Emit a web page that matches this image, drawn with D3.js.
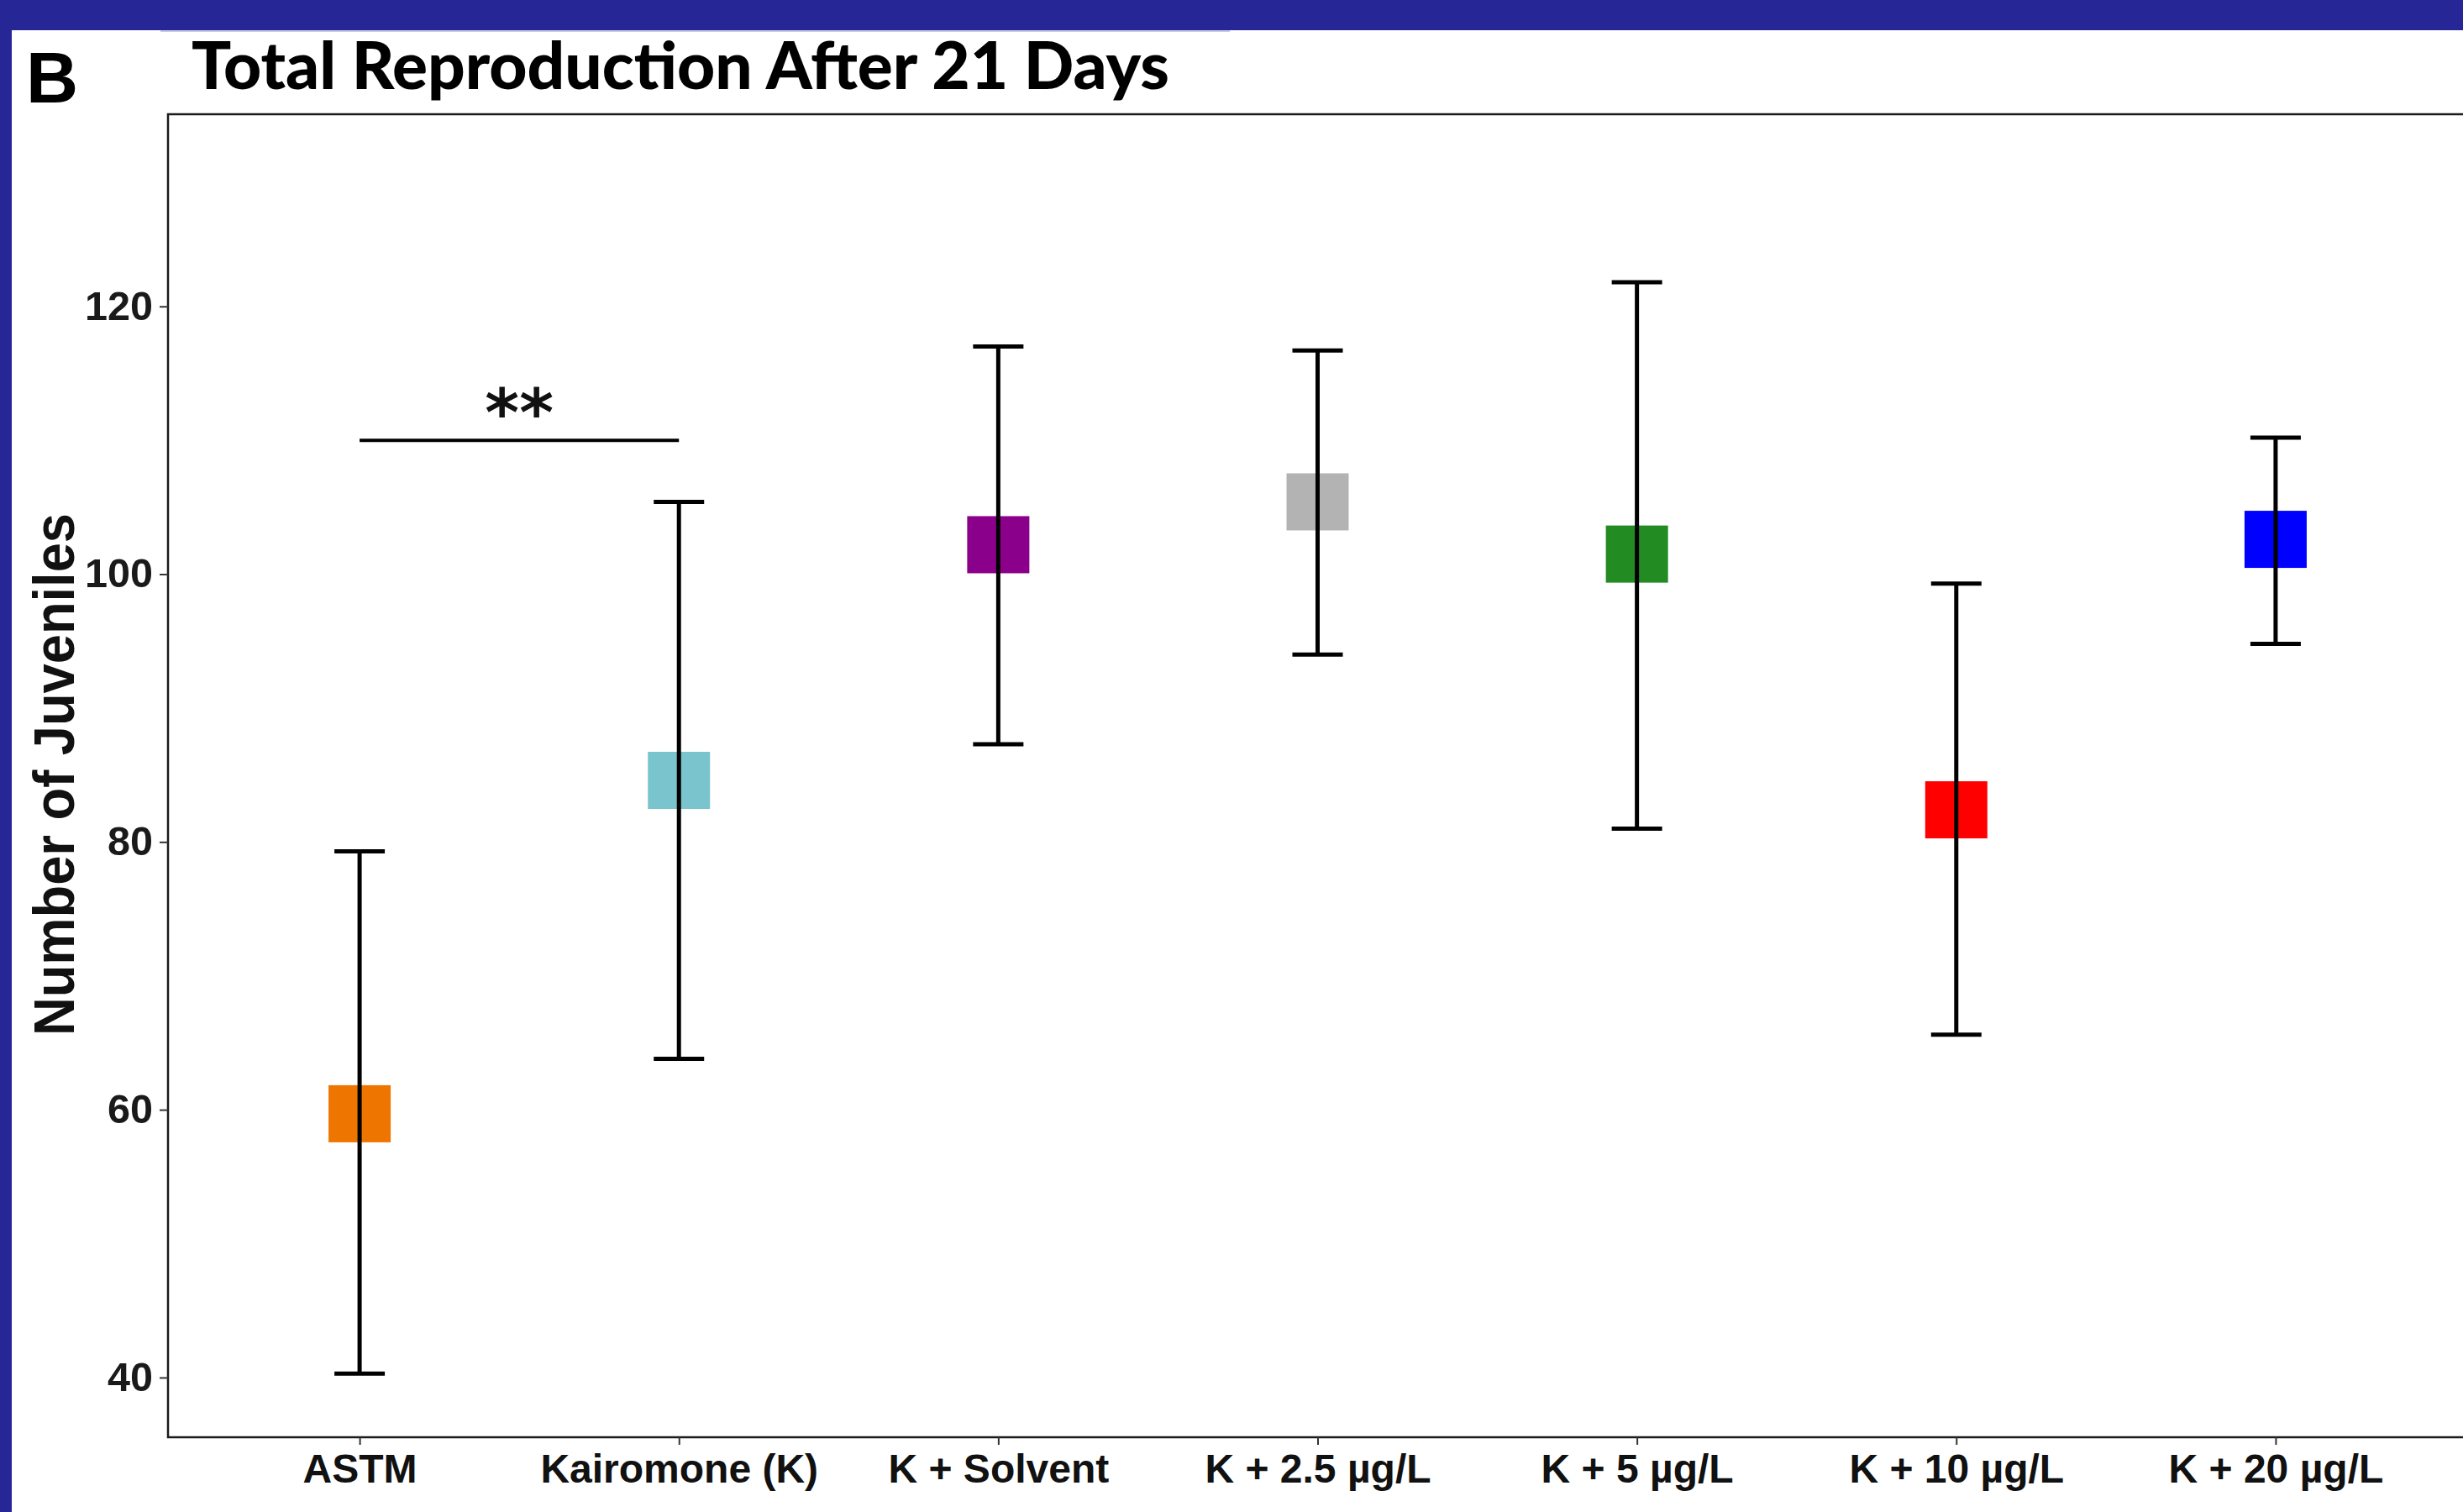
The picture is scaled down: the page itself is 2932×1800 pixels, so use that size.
<!DOCTYPE html>
<html>
<head>
<meta charset="utf-8">
<script src="https://cdn.jsdelivr.net/npm/d3@7"></script>
<style>
  html, body { margin: 0; padding: 0; background: #ffffff; }
  svg { display: block; }
</style>
</head>
<body>
<svg id="chart" width="2932" height="1800"></svg>
<script>
// Treatment groups
const categories = ["ASTM", "Kairomone (K)", "K + Solvent", "K + 2.5 µg/L", "K + 5 µg/L", "K + 10 µg/L", "K + 20 µg/L"];
// Mean number of juveniles and error bar limits per group
const means = [59.7, 84.6, 102.2, 105.4, 101.5, 82.4, 102.6];
const lower = [40.3, 63.8, 87.3, 94.0, 81.0, 65.6, 94.8];
const upper = [79.3, 105.4, 117.0, 116.7, 121.8, 99.3, 110.2];
const colors = ["#EE7600", "#7AC5CD", "#8B008B", "#B3B3B3", "#228B22", "#FF0000", "#0000FF"];
// Y axis ticks
const yTicks = [40, 60, 80, 100, 120];
// Significance bracket between the first two groups
const sigPair = ["ASTM", "Kairomone (K)"];
const sigValue = 110;
const sigLabel = "**";

const svg = d3.select("#chart");
const W = 2932, H = 1800;

// Page frame: navy bars along top and left
svg.append("rect").attr("x", 0).attr("y", 0).attr("width", W).attr("height", H).attr("fill", "#ffffff");
svg.append("rect").attr("x", 0).attr("y", 0).attr("width", W).attr("height", 36).attr("fill", "#262697");
svg.append("rect").attr("x", 0).attr("y", 0).attr("width", 14).attr("height", H).attr("fill", "#262697");
svg.append("line").attr("x1", 191).attr("x2", 1464).attr("y1", 37).attr("y2", 37)
  .attr("stroke", "#c9cce6").attr("stroke-width", 2);

// Panel geometry
const panel = { left: 200, right: 2937, top: 136, bottom: 1711 };

const x = d3.scalePoint()
  .domain(categories)
  .range([panel.left, panel.right])
  .padding(0.6);

const y = d3.scaleLinear()
  .domain([35.54, 134.35])
  .range([panel.bottom, panel.top]);

// Panel border
svg.append("rect")
  .attr("x", panel.left).attr("y", panel.top)
  .attr("width", panel.right - panel.left).attr("height", panel.bottom - panel.top)
  .attr("fill", "none").attr("stroke", "#1a1a1a").attr("stroke-width", 2.5);

// Y axis
const fmt = d3.format("d");
const yAxis = svg.append("g")
  .attr("transform", `translate(${panel.left},0)`)
  .call(d3.axisLeft(y).tickValues(yTicks).tickSize(10).tickPadding(8).tickFormat(fmt));
yAxis.select(".domain").remove();
yAxis.selectAll(".tick line").attr("stroke", "#333333").attr("stroke-width", 2);
yAxis.selectAll(".tick text")
  .attr("fill", "#1a1a1a")
  .attr("textLength", d => fmt(d).length * 27)
  .attr("lengthAdjust", "spacingAndGlyphs")
  .style("font-family", "'Liberation Sans', Arial, sans-serif")
  .style("font-weight", "700")
  .style("font-size", "48px");

// X axis
const xAxis = svg.append("g")
  .attr("transform", `translate(0,${panel.bottom})`)
  .call(d3.axisBottom(x).tickSize(9).tickPadding(11));
xAxis.select(".domain").remove();
xAxis.selectAll(".tick line").attr("stroke", "#333333").attr("stroke-width", 2);
xAxis.selectAll(".tick text")
  .attr("fill", "#111111")
  .style("font-family", "'Liberation Sans', Arial, sans-serif")
  .style("font-weight", "700")
  .style("font-size", "48px");

// Y axis title
svg.append("text")
  .attr("transform", `translate(88,922) rotate(-90)`)
  .attr("text-anchor", "middle")
  .attr("textLength", 622)
  .attr("lengthAdjust", "spacingAndGlyphs")
  .style("font-family", "'Liberation Sans', Arial, sans-serif")
  .style("font-weight", "700")
  .style("font-size", "68px")
  .attr("fill", "#111111")
  .text("Number of Juveniles");

// Panel letter and chart title
svg.append("text")
  .attr("x", 31).attr("y", 122)
  .style("font-family", "'Liberation Sans', Arial, sans-serif")
  .style("font-weight", "700")
  .style("font-size", "86px")
  .attr("fill", "#000000")
  .text("B");

svg.append("text")
  .attr("x", 228).attr("y", 106)
  .attr("textLength", 1164)
  .attr("lengthAdjust", "spacingAndGlyphs")
  .style("font-family", "Lato, 'Open Sans', sans-serif")
  .style("font-weight", "900")
  .style("font-size", "78px")
  .attr("fill", "#000000")
  .text("Total Reproduction After 21 Days");

// Data records built from the arrays
const rows = categories.map((c, i) => ({ cat: c, mean: means[i], lo: lower[i], hi: upper[i], color: colors[i] }));

const sqW = 74, sqH = 68, capW = 60;

// Mean markers (squares)
svg.append("g").selectAll("rect")
  .data(rows).join("rect")
  .attr("x", d => x(d.cat) - sqW / 2)
  .attr("y", d => y(d.mean) - sqH / 2)
  .attr("width", sqW).attr("height", sqH)
  .attr("fill", d => d.color);

// Error bars drawn over the markers
const eb = svg.append("g").attr("stroke", "#000000").attr("stroke-width", 5).attr("fill", "none");
eb.selectAll("line.v").data(rows).join("line").attr("class", "v")
  .attr("x1", d => x(d.cat)).attr("x2", d => x(d.cat))
  .attr("y1", d => y(d.hi)).attr("y2", d => y(d.lo));
eb.selectAll("line.top").data(rows).join("line").attr("class", "top")
  .attr("x1", d => x(d.cat) - capW / 2).attr("x2", d => x(d.cat) + capW / 2)
  .attr("y1", d => y(d.hi)).attr("y2", d => y(d.hi));
eb.selectAll("line.bot").data(rows).join("line").attr("class", "bot")
  .attr("x1", d => x(d.cat) - capW / 2).attr("x2", d => x(d.cat) + capW / 2)
  .attr("y1", d => y(d.lo)).attr("y2", d => y(d.lo));

// Significance bracket
const sx1 = x(sigPair[0]), sx2 = x(sigPair[1]);
svg.append("line")
  .attr("x1", sx1).attr("x2", sx2)
  .attr("y1", y(sigValue)).attr("y2", y(sigValue))
  .attr("stroke", "#000000").attr("stroke-width", 4);
svg.append("text")
  .attr("x", (sx1 + sx2) / 2).attr("y", y(sigValue) - 5)
  .attr("text-anchor", "middle")
  .style("font-family", "'DejaVu Sans', sans-serif")
  .style("font-weight", "700")
  .style("font-size", "78px")
  .attr("fill", "#111111")
  .text(sigLabel);
</script>
</body>
</html>
